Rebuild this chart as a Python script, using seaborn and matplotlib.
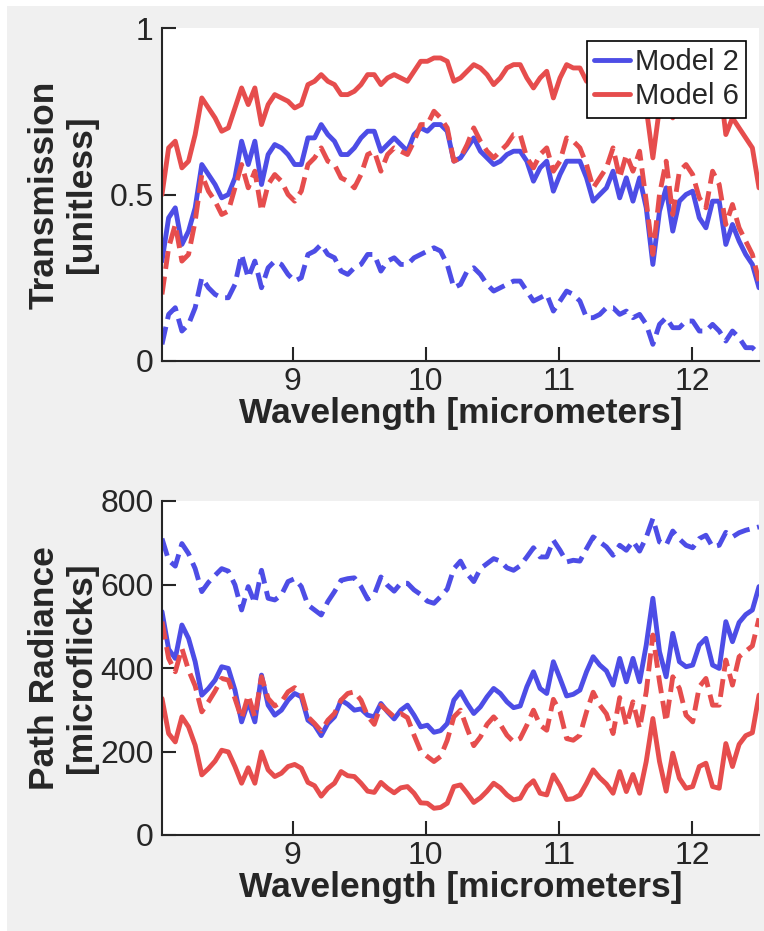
import numpy as np
import matplotlib.pyplot as plt
from matplotlib.patches import Rectangle
import seaborn as sns

# wavelength samples [micrometers], shared by every curve
wavelength = np.linspace(8.02, 12.50, 91)

# ---- transmission [unitless] ----
trans_m2_solid = [
    0.30, 0.43, 0.46, 0.35, 0.39, 0.46, 0.59, 0.56, 0.53, 0.49, 0.50, 0.55, 0.66, 0.59, 0.66,
    0.53, 0.62, 0.65, 0.64, 0.62, 0.59, 0.59, 0.67, 0.67, 0.71, 0.68, 0.66, 0.62, 0.62, 0.64,
    0.67, 0.69, 0.69, 0.63, 0.65, 0.67, 0.65, 0.63, 0.68, 0.70, 0.69, 0.71, 0.71, 0.69, 0.60,
    0.61, 0.64, 0.67, 0.63, 0.61, 0.59, 0.60, 0.62, 0.63, 0.63, 0.60, 0.54, 0.58, 0.60, 0.51,
    0.56, 0.60, 0.60, 0.60, 0.55, 0.48, 0.50, 0.52, 0.57, 0.49, 0.55, 0.48, 0.55, 0.46, 0.29,
    0.45, 0.52, 0.39, 0.48, 0.50, 0.51, 0.43, 0.40, 0.48, 0.48, 0.35, 0.41, 0.36, 0.32, 0.29,
    0.22,
]
trans_m2_dashed = [
    0.05, 0.14, 0.16, 0.09, 0.11, 0.16, 0.25, 0.22, 0.20, 0.19, 0.19, 0.23, 0.32, 0.25, 0.30,
    0.22, 0.28, 0.30, 0.29, 0.26, 0.24, 0.25, 0.32, 0.33, 0.35, 0.32, 0.31, 0.27, 0.26, 0.28,
    0.29, 0.32, 0.32, 0.27, 0.30, 0.31, 0.29, 0.29, 0.31, 0.32, 0.33, 0.34, 0.33, 0.29, 0.22,
    0.23, 0.27, 0.28, 0.26, 0.23, 0.21, 0.22, 0.23, 0.24, 0.24, 0.21, 0.18, 0.19, 0.20, 0.15,
    0.18, 0.21, 0.20, 0.18, 0.13, 0.13, 0.14, 0.16, 0.16, 0.14, 0.15, 0.13, 0.14, 0.11, 0.05,
    0.11, 0.13, 0.10, 0.10, 0.12, 0.12, 0.09, 0.09, 0.11, 0.09, 0.06, 0.09, 0.07, 0.04, 0.04,
    0.02,
]
trans_m6_solid = [
    0.50, 0.64, 0.66, 0.58, 0.60, 0.68, 0.79, 0.76, 0.73, 0.69, 0.70, 0.76, 0.82, 0.77, 0.82,
    0.71, 0.77, 0.80, 0.79, 0.78, 0.76, 0.77, 0.83, 0.84, 0.86, 0.84, 0.83, 0.80, 0.80, 0.81,
    0.83, 0.86, 0.86, 0.83, 0.85, 0.86, 0.85, 0.84, 0.87, 0.90, 0.90, 0.91, 0.91, 0.90, 0.84,
    0.85, 0.87, 0.89, 0.88, 0.86, 0.83, 0.85, 0.88, 0.89, 0.89, 0.85, 0.82, 0.85, 0.87, 0.79,
    0.85, 0.89, 0.88, 0.88, 0.84, 0.86, 0.87, 0.86, 0.88, 0.87, 0.85, 0.86, 0.84, 0.76, 0.61,
    0.76, 0.85, 0.73, 0.84, 0.86, 0.85, 0.87, 0.84, 0.86, 0.85, 0.68, 0.73, 0.70, 0.67, 0.64,
    0.52,
]
trans_m6_dashed = [
    0.20, 0.34, 0.41, 0.30, 0.32, 0.42, 0.56, 0.51, 0.48, 0.44, 0.45, 0.52, 0.59, 0.52, 0.57,
    0.45, 0.53, 0.56, 0.54, 0.50, 0.48, 0.51, 0.59, 0.61, 0.64, 0.60, 0.59, 0.55, 0.54, 0.52,
    0.56, 0.62, 0.63, 0.57, 0.62, 0.64, 0.63, 0.62, 0.66, 0.71, 0.71, 0.75, 0.73, 0.70, 0.60,
    0.61, 0.65, 0.70, 0.66, 0.63, 0.61, 0.63, 0.65, 0.68, 0.68, 0.61, 0.58, 0.62, 0.64, 0.57,
    0.60, 0.67, 0.66, 0.64, 0.59, 0.52, 0.55, 0.58, 0.64, 0.55, 0.62, 0.57, 0.63, 0.48, 0.32,
    0.50, 0.60, 0.44, 0.57, 0.59, 0.56, 0.49, 0.46, 0.57, 0.53, 0.41, 0.47, 0.40, 0.36, 0.32,
    0.24,
]

# ---- path radiance [microflicks] ----
rad_m2_solid = [
    535, 445, 423, 503, 471, 415, 335, 351, 371, 403, 399, 347, 271, 319, 271,
    383, 311, 287, 299, 323, 339, 331, 275, 263, 238, 267, 283, 323, 313, 299,
    302, 287, 283, 315, 295, 278, 299, 311, 287, 259, 263, 246, 250, 267, 323,
    343, 315, 291, 307, 331, 351, 339, 319, 305, 309, 355, 391, 351, 339, 415,
    375, 333, 337, 347, 391, 427, 407, 393, 359, 423, 367, 423, 367, 455, 567,
    439, 379, 483, 415, 403, 407, 455, 471, 407, 399, 511, 463, 509, 528, 539,
    595,
]
rad_m2_dashed = [
    710, 658, 644, 698, 674, 638, 583, 605, 622, 638, 632, 599, 539, 595, 555,
    634, 567, 563, 575, 607, 614, 595, 551, 539, 527, 559, 583, 610, 614, 616,
    595, 565, 576, 618, 598, 584, 603, 603, 587, 576, 560, 555, 571, 589, 638,
    656, 626, 607, 638, 650, 662, 656, 640, 634, 645, 666, 688, 666, 666, 706,
    682, 654, 658, 656, 686, 714, 702, 690, 670, 694, 682, 704, 680, 713, 758,
    702, 694, 728, 709, 694, 688, 710, 718, 690, 694, 725, 714, 724, 730, 734,
    738,
]
rad_m6_solid = [
    327, 243, 223, 283, 259, 215, 144, 159, 177, 203, 199, 164, 124, 161, 124,
    199, 156, 140, 148, 164, 169, 160, 126, 118, 93, 112, 124, 152, 142, 140,
    124, 105, 102, 126, 112, 101, 113, 116, 100, 77, 76, 64, 66, 76, 116,
    120, 100, 78, 89, 105, 124, 113, 96, 84, 88, 116, 130, 100, 96, 144,
    118, 85, 87, 96, 124, 156, 137, 122, 100, 152, 104, 145, 100, 176, 279,
    176, 105, 196, 136, 112, 116, 164, 172, 116, 112, 219, 164, 217, 238, 245,
    335,
]
rad_m6_dashed = [
    511, 423, 391, 447, 395, 357, 295, 319, 345, 375, 371, 327, 279, 335, 283,
    379, 327, 309, 319, 343, 353, 339, 283, 267, 249, 275, 291, 323, 339, 343,
    323, 285, 265, 311, 297, 283, 291, 281, 239, 201, 188, 176, 188, 227, 283,
    299, 255, 214, 235, 265, 283, 265, 239, 223, 231, 263, 299, 263, 251, 325,
    295, 231, 227, 239, 295, 342, 311, 290, 243, 329, 263, 319, 255, 343, 479,
    367, 271, 379, 351, 287, 271, 355, 375, 311, 311, 419, 359, 427, 440, 453,
    519,
]

BLUE = "#4d4de6"
RED = "#e64d4d"
INK = "#262626"

sns.set_theme(style="ticks")
plt.rcParams["font.family"] = ["Liberation Sans", "DejaVu Sans"]


def draw_panel(ax, curves, yticks, yticklabels, ylabel):
    for values, color, ls in curves:
        sns.lineplot(x=wavelength, y=values, color=color, linestyle=ls,
                     linewidth=3.5, ax=ax, legend=False)
    ax.set_facecolor("white")
    ax.set_xlim(wavelength[0], wavelength[-1])
    ax.set_ylim(yticks[0], yticks[-1])
    ax.set_xticks([9, 10, 11, 12])
    ax.set_yticks(yticks)
    ax.set_yticklabels(yticklabels)
    ax.tick_params(direction="in", length=10, width=1.5, colors=INK,
                   labelsize=23)
    ax.tick_params(axis="x", pad=4)
    ax.tick_params(axis="y", pad=6)
    for side in ["top", "right"]:
        ax.spines[side].set_visible(False)
    for side in ["left", "bottom"]:
        ax.spines[side].set_color(INK)
        ax.spines[side].set_linewidth(1.5)
    ax.set_xlabel("Wavelength [micrometers]", fontsize=25.5, fontweight="bold",
                  color=INK, labelpad=0)
    ax.set_ylabel(ylabel, fontsize=25.5, fontweight="bold", color=INK,
                  linespacing=1.15)
    ax.yaxis.set_label_coords(-0.108, 0.5)


fig = plt.figure(figsize=(7.64, 9.31), dpi=100, facecolor="white")
fig.patches.append(Rectangle((7 / 764, 0), 1, 1 - 6 / 931, transform=fig.transFigure,
                             facecolor="#f0f0f0", edgecolor="none", zorder=-10))

ax_top = fig.add_axes([162 / 764, 1 - 361 / 931, 597 / 764, 333 / 931])
ax_bot = fig.add_axes([162 / 764, 1 - 835 / 931, 597 / 764, 334 / 931])

draw_panel(
    ax_top,
    [(trans_m2_solid, BLUE, "-"), (trans_m6_solid, RED, "-"),
     (trans_m2_dashed, BLUE, "--"), (trans_m6_dashed, RED, "--")],
    [0, 0.5, 1], ["0", "0.5", "1"],
    "Transmission\n[unitless]",
)
draw_panel(
    ax_bot,
    [(rad_m2_solid, BLUE, "-"), (rad_m6_solid, RED, "-"),
     (rad_m2_dashed, BLUE, "--"), (rad_m6_dashed, RED, "--")],
    [0, 200, 400, 600, 800], ["0", "200", "400", "600", "800"],
    "Path Radiance\n[microflicks]",
)

handles = ax_top.get_lines()[:2]
leg = ax_top.legend(handles, ["Model 2", "Model 6"], loc="upper right",
                    fontsize=21, frameon=True, fancybox=False, framealpha=1,
                    edgecolor="black", borderaxespad=0.45, borderpad=0.25,
                    labelspacing=0.2, handlelength=1.25, handletextpad=0.15)
leg.get_frame().set_linewidth(1.2)

fig.savefig("out.png", dpi=100, facecolor=fig.get_facecolor())
